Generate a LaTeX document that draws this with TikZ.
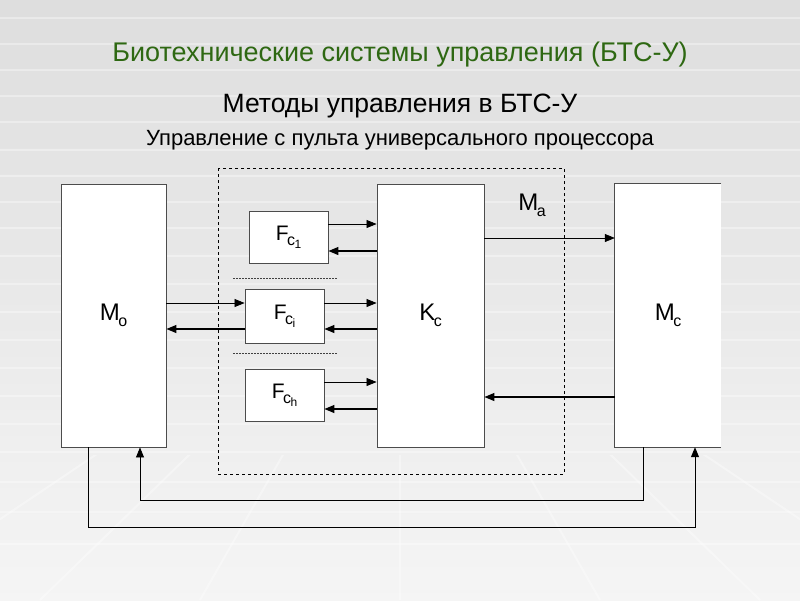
\documentclass[tikz,border=0pt]{standalone}
\usepackage{fontspec}
\setmainfont{Liberation Sans}
\usetikzlibrary{arrows.meta}

\definecolor{titlegreen}{RGB}{46,104,18}
\newcommand{\subs}[1]{\kern-1.5pt\raisebox{-.45ex}{\fontsize{16pt}{16pt}\selectfont #1}}
\newcommand{\subsubs}[1]{\kern-0.5pt\raisebox{-.4ex}{\fontsize{12pt}{12pt}\selectfont #1}}

\tikzset{
  block/.style={draw=black!70, line width=0.9pt, fill=white, inner sep=0pt,
    font=\fontsize{24pt}{24pt}\selectfont},
  fblock/.style={block, minimum width=79pt, font=\fontsize{21pt}{21pt}\selectfont},
  sig/.style={-{Triangle[length=10pt,width=8pt]}, line width=0.7pt},
  ret/.style={sig, line width=1.3pt},
  sep/.style={dash pattern=on 2pt off 1pt, line width=0.9pt, black!75},
  tile/.style={white, line width=2pt, opacity=0.35},
}

\begin{document}
\begin{tikzpicture}[x=1pt, y=-1pt]
    % Fondo
    \useasboundingbox (0,0) rectangle (800,600);
    \fill[top color=black!13, bottom color=black!4] (0,0) rectangle (800,600);
    \foreach \y in {18,44,70,96,122,150,176,202,228,256,284,312,340,368,396,424,452,482,512,544}
      \draw[tile] (0,\y) -- (800,\y);
    \begin{scope}
      \clip (0,455) rectangle (800,600);
      \foreach \x in {-500,-300,-120,40,200,400,600,760,920,1100,1300}
        \draw[tile] (\x,600) -- (400,250);
    \end{scope}

    % Titulos
    \node[titlegreen, font=\fontsize{27pt}{27pt}\selectfont] (title) at (400,55)
      {Биотехнические системы  управления (БТС-У)};
    \node[font=\fontsize{26.5pt}{26.5pt}\selectfont] (method) at (400,106)
      {Методы управления в БТС-У};
    \node[font=\fontsize{22pt}{22pt}\selectfont] (subtitle) at (400,140)
      {Управление с пульта универсального процессора};

    % Bloques
    \node[block, minimum width=105pt, minimum height=263pt] (mo) at (113.5,315.5) {M\subs{o}};
    \node[block, minimum width=107pt, minimum height=263pt] (kc) at (430.5,315.5) {K\subs{c}};
    \node[fill=white, inner sep=0pt, minimum width=106pt, minimum height=263pt,
      font=\fontsize{24pt}{24pt}\selectfont] (mc) at (668,315.5) {M\subs{c}};
    \draw[black!70, line width=0.9pt] (mc.north east) -- (mc.north west)
      -- (mc.south west) -- (mc.south east);

    \node[fblock, minimum height=52pt] (fc1) at (288.5,237) {F\subs{c\subsubs{1}}};
    \node[fblock, minimum height=54pt] (fci) at (284.5,316) {F\subs{c\subsubs{i}}};
    \node[fblock, minimum height=52pt] (fch) at (284.5,395) {F\subs{c\subsubs{h}}};

    \node[font=\fontsize{24pt}{24pt}\selectfont] (ma) at (532,205) {M\subs{a}};

    % Separadores
    \draw[sep] (233,278) -- (337,278);
    \draw[sep] (233,353) -- (337,353);

    % Enlaces F - K
    \draw[sig] (fc1.east |- 0,224) -- (kc.west |- 0,224);
    \draw[ret] (kc.west |- 0,251) -- (fc1.east |- 0,251);
    \draw[sig] (fci.east |- 0,303) -- (kc.west |- 0,303);
    \draw[ret] (kc.west |- 0,329) -- (fci.east |- 0,329);
    \draw[sig] (fch.east |- 0,382) -- (kc.west |- 0,382);
    \draw[ret] (kc.west |- 0,409) -- (fch.east |- 0,409);

    % Enlaces M_o - F_ci
    \draw[sig] (mo.east |- 0,303) -- (fci.west |- 0,303);
    \draw[ret] (fci.west |- 0,329) -- (mo.east |- 0,329);

    % Enlaces K - M_c
    \draw[sig] (kc.east |- 0,238) -- (mc.west |- 0,238);
    \draw[ret] (mc.west |- 0,397) -- (kc.east |- 0,397);

    % Lazos inferiores
    \draw[sig] (mc.south -| 643,0) -- ++(0,53) -| (mo.south -| 140,0);
    \draw[sig, line width=1pt] (mo.south -| 88,0) -- ++(0,80) -| (mc.south -| 695,0);

    % Marco del procesador
    \draw[dashed, line width=0.9pt] (218,168) rectangle (564,474);
\end{tikzpicture}
\end{document}
